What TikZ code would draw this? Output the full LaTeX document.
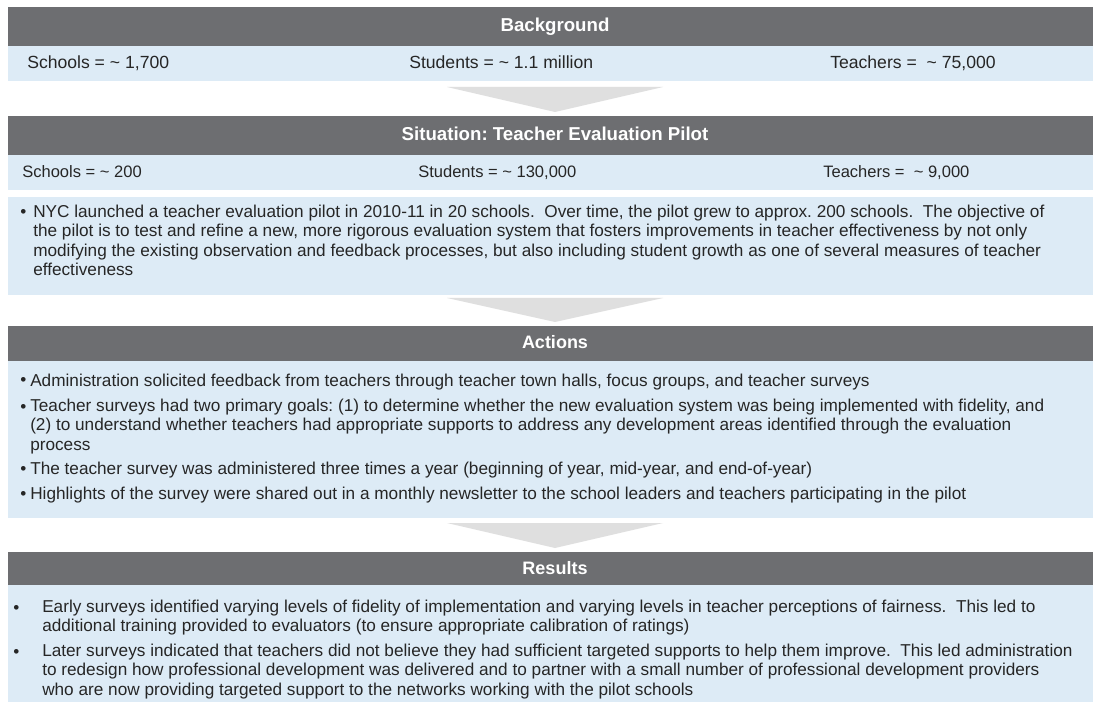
\documentclass[tikz,border=0pt]{standalone}
\usepackage{fontspec}
\setmainfont{Liberation Sans}
\definecolor{hdrgray}{HTML}{6D6E71}
\definecolor{rowblue}{HTML}{DDEBF6}
\definecolor{arrgray}{HTML}{DFDFDF}
\definecolor{txtcol}{HTML}{262626}
\frenchspacing
\begin{document}
\begin{tikzpicture}[x=0.75pt,y=-0.75pt,
  hdrbar/.style={fill=hdrgray},
  bluebar/.style={fill=rowblue},
  chev/.style={fill=arrgray},
  hdrtext/.style={inner sep=0pt, anchor=base, text=white, font=\fontsize{14}{16}\selectfont\bfseries},
  hdrsmall/.style={hdrtext, font=\fontsize{13.5}{16}\selectfont\bfseries},
  rowtext/.style={inner sep=0pt, anchor=base west, text=txtcol, font=\fontsize{13.2}{15}\selectfont},
  rowtexttwo/.style={rowtext, font=\fontsize{12.4}{15}\selectfont},
  bul/.style={inner sep=0pt, anchor=base west, text=txtcol, font=\fontsize{12.9}{14.6}\selectfont},
  para/.style={inner sep=0pt, anchor=north west, align=left, text=txtcol, font=\fontsize{12.9}{14.6}\selectfont, execute at begin node=\strut}
]
\useasboundingbox (0,0) rectangle (1093,702);
\fill[white] (0,0) rectangle (1093,702);

% ---------- Background ----------
\fill[hdrbar] (8,7) rectangle (1093,46);
\fill[bluebar] (8,46) rectangle (1093,81);
\node[hdrtext] (h1) at (555,32) {Background};
\node[rowtext] (b1) at (27,69) {Schools = \textasciitilde\ 1,700};
\node[rowtext] (b2) at (409,69) {Students = \textasciitilde\ 1.1 million};
\node[rowtext] (b3) at (830,69) {Teachers =\ \ \textasciitilde\ 75,000};

% arrow 1
\fill[chev] (447,87) -- (663,87) -- (555,112) -- cycle;

% ---------- Situation ----------
\fill[hdrbar] (8,116) rectangle (1093,155);
\fill[bluebar] (8,155) rectangle (1093,190);
\node[hdrtext] (h2) at (555,141) {Situation: Teacher Evaluation Pilot};
\node[rowtexttwo] (s1) at (22,178) {Schools = \textasciitilde\ 200};
\node[rowtexttwo] (s2) at (418,178) {Students = \textasciitilde\ 130,000};
\node[rowtexttwo] (s3) at (823,178) {Teachers =\ \ \textasciitilde\ 9,000};

\fill[bluebar] (8,197) rectangle (1093,295);
\node[bul] (sb) at (20,218) {•};
\node[para] (sp) at (33,204.4) {NYC launched a teacher evaluation pilot in 2010-11 in 20 schools.\ \ Over time, the pilot grew to approx. 200 schools.\ \ The objective of\\
the pilot is to test and refine a new, more rigorous evaluation system that fosters improvements in teacher effectiveness by not only\\
modifying the existing observation and feedback processes, but also including student growth as one of several measures of teacher\\
effectiveness};

% arrow 2
\fill[chev] (447,298) -- (663,298) -- (555,322) -- cycle;

% ---------- Actions ----------
\fill[hdrbar] (8,326) rectangle (1093,361);
\fill[bluebar] (8,361) rectangle (1093,518);
\node[hdrsmall] (h3) at (555,349) {Actions};
\node[bul] (ab1) at (20,386) {•};
\node[para] (ap1) at (30,372.4) {Administration solicited feedback from teachers through teacher town halls, focus groups, and teacher surveys};
\node[bul] (ab2) at (20,412) {•};
\node[para] (ap2) at (30,398.4) {Teacher surveys had two primary goals: (1) to determine whether the new evaluation system was being implemented with fidelity, and\\
(2) to understand whether teachers had appropriate supports to address any development areas identified through the evaluation\\
process};
\node[bul] (ab3) at (20,474) {•};
\node[para] (ap3) at (30,460.4) {The teacher survey was administered three times a year (beginning of year, mid-year, and end-of-year)};
\node[bul] (ab4) at (20,499) {•};
\node[para] (ap4) at (30,485.4) {Highlights of the survey were shared out in a monthly newsletter to the school leaders and teachers participating in the pilot};

% arrow 3
\fill[chev] (447,523) -- (663,523) -- (555,548) -- cycle;

% ---------- Results ----------
\fill[hdrbar] (8,552) rectangle (1093,585);
\fill[bluebar] (8,585) rectangle (1093,702);
\node[hdrsmall] (h4) at (555,574) {Results};
\node[bul] (rb1) at (13,613) {•};
\node[para] (rp1) at (42,599.4) {Early surveys identified varying levels of fidelity of implementation and varying levels in teacher perceptions of fairness.\ \ This led to\\
additional training provided to evaluators (to ensure appropriate calibration of ratings)};
\node[bul] (rb2) at (13,657) {•};
\node[para] (rp2) at (42,643.4) {Later surveys indicated that teachers did not believe they had sufficient targeted supports to help them improve.\ \ This led administration\\
to redesign how professional development was delivered and to partner with a small number of professional development providers\\
who are now providing targeted support to the networks working with the pilot schools};
\end{tikzpicture}
\end{document}
